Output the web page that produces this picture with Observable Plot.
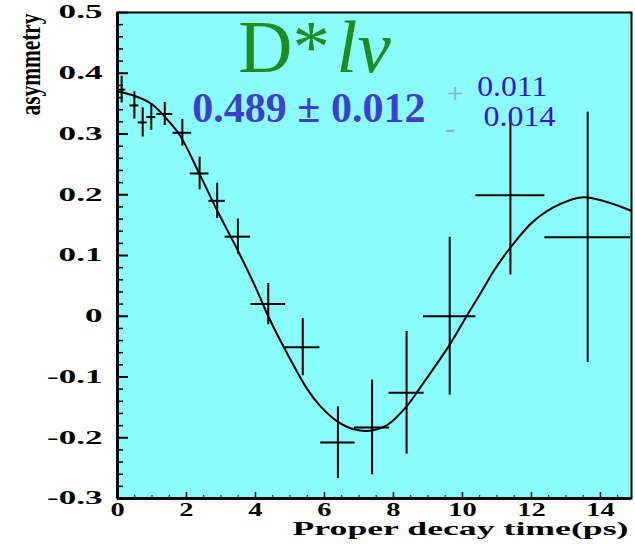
<!DOCTYPE html>
<html><head><meta charset="utf-8">
<script src="https://cdn.jsdelivr.net/npm/d3@7"></script>
<script src="https://cdn.jsdelivr.net/npm/@observablehq/plot@0.6"></script>
<style>html,body{margin:0;padding:0;background:#fff}</style>
</head><body><div id="chart"></div>
<script>
// Data points (proper decay time, asymmetry) with errors
const time    = [0.12, 0.49, 0.73, 0.98, 1.37, 1.88, 2.38, 2.89, 3.49, 4.37, 5.37, 6.39, 7.38, 8.38, 9.63, 11.39, 13.63];
const timeErr = [0.12, 0.13, 0.13, 0.13, 0.23, 0.27, 0.27, 0.24, 0.37, 0.50, 0.50, 0.50, 0.51, 0.51, 0.76, 1.00, 1.24];
const asym    = [0.373, 0.347, 0.319, 0.328, 0.333, 0.302, 0.235, 0.190, 0.131, 0.020, -0.051, -0.208, -0.183, -0.126, 0.000, 0.199, 0.130];
const asymErr = [0.022, 0.0225, 0.024, 0.022, 0.019, 0.022, 0.027, 0.029, 0.029, 0.034, 0.047, 0.059, 0.078, 0.101, 0.130, 0.131, 0.206];

// Fit curve
const curveTime = [0, 0.49, 1.0, 1.5, 1.83, 2.38, 2.89, 3.49, 4.0, 4.37, 4.72, 5.5, 5.88, 6.37, 6.85, 7.38, 7.82, 8.40, 8.78, 9.65, 10.14, 10.62, 10.91, 11.39, 12.07, 12.84, 13.52, 14.19, 14.87];
const curveAsym = [0.370, 0.363, 0.349, 0.320, 0.296, 0.234, 0.174, 0.108, 0.048, 0.000, -0.040, -0.120, -0.148, -0.173, -0.186, -0.188, -0.179, -0.147, -0.117, -0.045, 0.002, 0.047, 0.075, 0.113, 0.157, 0.185, 0.196, 0.188, 0.174];

// Axis ticks
const yTicks = [0.5, 0.4, 0.3, 0.2, 0.1, 0, -0.1, -0.2, -0.3];
const yTickLabels = ["0.5", "0.4", "0.3", "0.2", "0.1", "0", "-0.1", "-0.2", "-0.3"];
const yMinor = [0.48,0.46,0.44,0.42,0.38,0.36,0.34,0.32,0.28,0.26,0.24,0.22,0.18,0.16,0.14,0.12,0.08,0.06,0.04,0.02,-0.02,-0.04,-0.06,-0.08,-0.12,-0.14,-0.16,-0.18,-0.22,-0.24,-0.26,-0.28];
const xTicks = [0, 2, 4, 6, 8, 10, 12, 14];
const xTickLabels = ["0", "2", "4", "6", "8", "10", "12", "14"];
const xMinor = [0.5,1,1.5,2.5,3,3.5,4.5,5,5.5,6.5,7,7.5,8.5,9,9.5,10.5,11,11.5,12.5,13,13.5,14.5];

// Texts
const xLabel = "Proper decay time(ps)";
const yLabel = "asymmetry";
const titleParts = ["D*", "lν"];
const titleX = [3.50, 6.35];
const titleY = [0.402, 0.402];
const resultText = ["0.489 ± 0.012"];
const resultX = [2.17];
const resultY = [0.319];
const signText = ["+", "-"];
const signX = [9.79, 9.64];
const signY = [0.367, 0.309];
const sysText = ["0.011", "0.014"];
const sysX = [10.43, 10.61];
const sysY = [0.3633, 0.3138];

const W = 635, H = 548, mL = 117, mT = 12, mR = 4, mB = 50;
const fw = W - mL - mR, fh = H - mT - mB;
const serif = "'Liberation Serif','Times New Roman',serif";

const pts = time.map((t, i) => ({t, a: asym[i], et: timeErr[i], ea: asymErr[i]}));
const fit = curveTime.map((t, i) => ({t, a: curveAsym[i]}));
const idx = a => a.map((_, i) => i);

const svg = Plot.plot({
  width: W, height: H,
  marginLeft: mL, marginTop: mT, marginRight: mR, marginBottom: mB,
  x: {domain: [0, 14.9]},
  y: {domain: [-0.3, 0.5]},
  style: {background: "white", fontFamily: serif, color: "black"},
  marks: [
    Plot.frame({fill: "#8afdfd", stroke: null}),
    Plot.tickY(yMinor, {y: d => d, insetRight: fw - 6, strokeWidth: 1.5}),
    Plot.tickY(yTicks, {y: d => d, insetRight: fw - 11, strokeWidth: 2}),
    Plot.tickX(xMinor, {x: d => d, insetTop: fh - 3, strokeWidth: 1}),
    Plot.tickX(xTicks, {x: d => d, insetTop: fh - 6, strokeWidth: 1.5}),
    Plot.line(fit, {x: "t", y: "a", curve: "catmull-rom", stroke: "black", strokeWidth: 2}),
    Plot.ruleX(pts, {x: "t", y1: d => d.a - d.ea, y2: d => d.a + d.ea, stroke: "black", strokeWidth: 2, clip: true}),
    Plot.ruleY(pts, {y: "a", x1: d => d.t - d.et, x2: d => d.t + d.et, stroke: "black", strokeWidth: 2, clip: true}),
    Plot.frame({stroke: "black", strokeWidth: 2}),
    Plot.ruleX([0], {stroke: "black", strokeWidth: 3}),
    Plot.ruleY([-0.3], {stroke: "black", strokeWidth: 3}),
    Plot.axisY({ticks: yTicks, tickSize: 0, tickPadding: 15, label: null,
      tickFormat: d => yTickLabels[yTicks.indexOf(d)], fontSize: 18, fontWeight: "bold"}),
    Plot.axisX({ticks: xTicks, tickSize: 0, tickPadding: 4, label: null,
      tickFormat: d => xTickLabels[xTicks.indexOf(d)], fontSize: 19, fontWeight: "bold"}),
    Plot.text([yLabel], {text: d => d, frameAnchor: "top-left", rotate: -90, textAnchor: "end", lineAnchor: "middle",
      dx: -87, dy: 1, fontSize: 30, fontWeight: "bold"}),
    Plot.text([xLabel], {text: d => d, frameAnchor: "bottom-right", textAnchor: "end", lineAnchor: "bottom",
      dx: -3, dy: 36, fontSize: 19, fontWeight: "bold"}),
    Plot.text([0], {x: i => titleX[i], y: i => titleY[i], text: i => titleParts[i],
      textAnchor: "start", lineAnchor: "bottom", fontSize: 75, fill: "#1f8c1f"}),
    Plot.text([1], {x: i => titleX[i], y: i => titleY[i], text: i => titleParts[i],
      textAnchor: "start", lineAnchor: "bottom", fontSize: 75, fill: "#1f8c1f", fontStyle: "italic"}),
    Plot.text(idx(resultText), {x: i => resultX[i], y: i => resultY[i], text: i => resultText[i],
      textAnchor: "start", lineAnchor: "bottom", fontSize: 42, fontWeight: "bold", fill: "#3f3fcc"}),
    Plot.text(idx(signText), {x: i => signX[i], y: i => signY[i], text: i => signText[i],
      textAnchor: "middle", lineAnchor: "middle", fontSize: 30, fill: "#7fb2d8"}),
    Plot.text(idx(sysText), {x: i => sysX[i], y: i => sysY[i], text: i => sysText[i],
      textAnchor: "start", lineAnchor: "bottom", fontSize: 30, fill: "#3a14d4"})
  ]
});

document.getElementById("chart").appendChild(svg);

// Stretch glyphs horizontally (as in the original figure) with textLength
function fitLen(t, len) {
  t.setAttribute("textLength", len);
  t.setAttribute("lengthAdjust", "spacingAndGlyphs");
}
svg.querySelectorAll("text").forEach(t => {
  const s = t.textContent;
  const g = t.closest("g");
  const lab = g ? (g.getAttribute("aria-label") || "") : "";
  const L = t.getComputedTextLength();
  if (lab.startsWith("y-axis tick label")) fitLen(t, L * 1.95);
  else if (lab.startsWith("x-axis tick label")) fitLen(t, L * 1.5);
  else if (s === xLabel) fitLen(t, 336);
  else if (s === yLabel) fitLen(t, 102);
  else if (s === sysText[0]) fitLen(t, 70);
  else if (s === sysText[1]) fitLen(t, 72);
});
</script>
</body></html>
